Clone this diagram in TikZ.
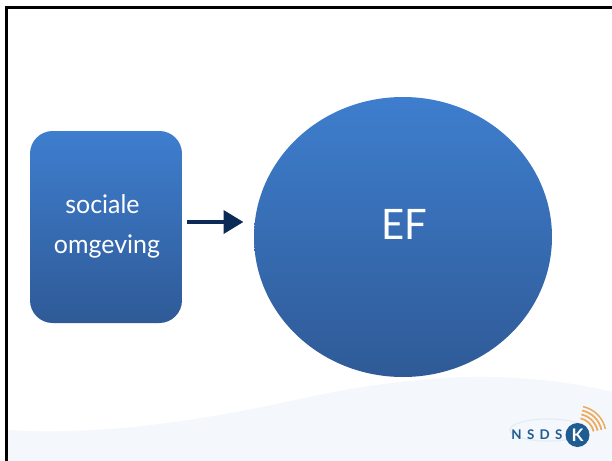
\documentclass[tikz,border=0pt]{standalone}
\usepackage{graphicx}
\usepackage{fontspec}
\setmainfont{Lato}
\usetikzlibrary{arrows.meta,calc,shapes.geometric}
\definecolor{blueTop}{HTML}{3E7ECE}
\definecolor{blueBot}{HTML}{2F5A97}
\definecolor{waveC}{HTML}{F4F7FB}
\definecolor{navy}{HTML}{0C2A56}
\definecolor{logoBlue}{HTML}{1F5C92}
\definecolor{logoOr}{HTML}{EDAA5A}
\tikzset{
  shapefill/.style={top color=blueTop,bottom color=blueBot,draw=none,text=white},
  pxunit/.style={x=0.75pt,y=-0.75pt},
  boxlabel/.style={text=white,font=\fontsize{18.7pt}{24pt}\selectfont,inner sep=0pt,anchor=base},
}
\begin{document}
\begin{tikzpicture}[pxunit]
\useasboundingbox (0,0) rectangle (612,461);
\fill[white] (0,0) rectangle (612,461);
% background wave
\fill[waveC] (8,430) .. controls (100,436) and (200,421) .. (300,399)
  .. controls (380,381) and (450,376) .. (490,377) .. controls (540,378) and (580,384) .. (612,392) -- (612,461) -- (8,461) -- cycle;
% frame
\fill[black] (5,6) rectangle (612,9);
\fill[black] (5,6) rectangle (8,461);
% shapes
\node[shapefill,rounded corners=17pt,minimum width=114pt,minimum height=144pt,inner sep=0pt] (box) at (106,227) {};
\node[boxlabel] (boxt1) at (102.5,213) {\scalebox{1}[1.03]{sociale}};
\node[boxlabel] (boxt2) at (107,253) {\scalebox{1}[1.03]{omgeving}};
\node[shapefill,ellipse,minimum width=223.5pt,minimum height=210pt,inner sep=0pt] (ef) at (403,237) {};
\node[text=white,font=\fontsize{30pt}{40pt}\selectfont,inner sep=0pt,anchor=base] (eft) at (404,239) {\scalebox{1}[1.05]{EF}};
% arrow
\draw[navy,line width=3.6pt,-{Triangle[length=15pt,width=17pt]}] (187,222) -- (243.5,222);
% logo
\begin{scope}
\draw[logoBlue!12,line width=0.8pt] (548,430) ellipse (38 and 11);
\foreach \r/\w in {17/1.3,21/1.3,25/1.3,29/1.1}{
  \draw[logoOr,line width=\w pt] ($(577,435)+(-12:\r)$) arc[start angle=12,end angle=78,radius=\r*0.75pt];
}
\fill[logoBlue] (577.5,435) circle (12);
\node[text=white,font=\bfseries\fontsize{13pt}{14pt}\selectfont,inner sep=0pt] (k) at (577.5,435) {K};
\node[text=logoBlue,font=\bfseries\fontsize{10pt}{12pt}\selectfont,inner sep=0pt] (nsds) at (537,434.5) {N\hspace{4pt}S\hspace{4pt}D\hspace{4pt}S};
\end{scope}
\end{tikzpicture}
\end{document}
